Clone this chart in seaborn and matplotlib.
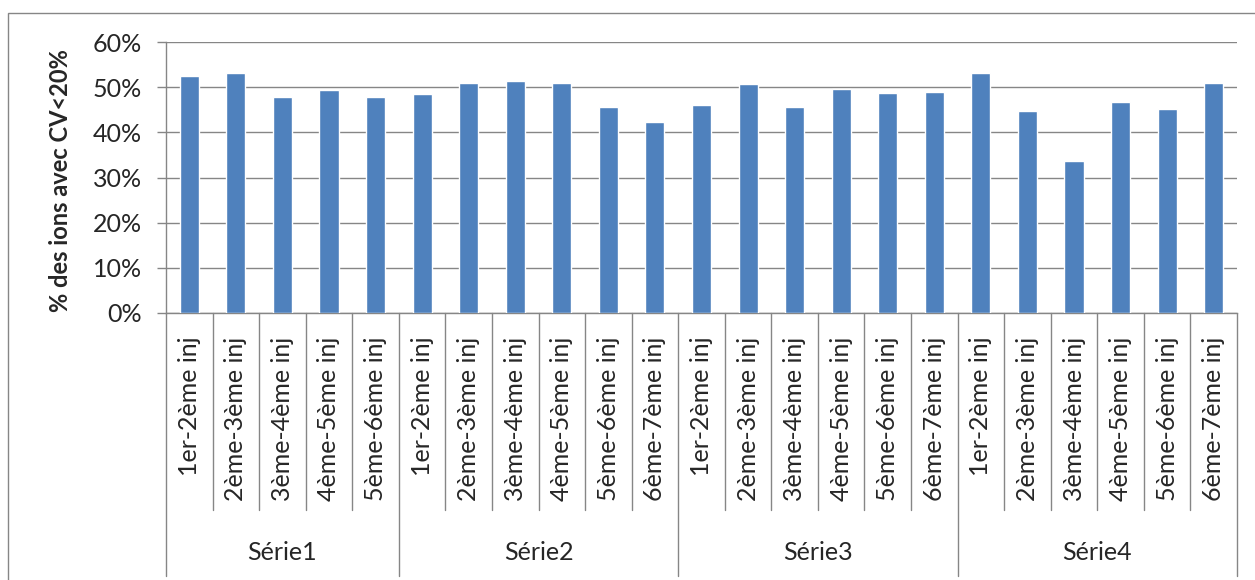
import numpy as np
import pandas as pd
import seaborn as sns
import matplotlib.pyplot as plt
from matplotlib.patches import Rectangle
from matplotlib.ticker import PercentFormatter

# ---- data ----
series = ["Série1", "Série2", "Série3", "Série4"]
labels_s1 = ["1er-2ème inj", "2ème-3ème inj", "3ème-4ème inj", "4ème-5ème inj", "5ème-6ème inj"]
labels_s234 = ["1er-2ème inj", "2ème-3ème inj", "3ème-4ème inj", "4ème-5ème inj",
               "5ème-6ème inj", "6ème-7ème inj"]
vals_s1 = [52.5, 53.2, 47.9, 49.4, 47.9]
vals_s2 = [48.5, 51.0, 51.4, 51.0, 45.6, 42.2]
vals_s3 = [46.1, 50.7, 45.6, 49.6, 48.6, 49.0]
vals_s4 = [53.2, 44.7, 33.7, 46.8, 45.1, 51.0]
ylabel = "% des ions avec CV<20%"

group_labels = [labels_s1, labels_s234, labels_s234, labels_s234]
group_vals = [vals_s1, vals_s2, vals_s3, vals_s4]

rows = []
for s, labs, vals in zip(series, group_labels, group_vals):
    for l, v in zip(labs, vals):
        rows.append({"serie": s, "inj": l, "key": f"{s}|{l}", "value": v})
df = pd.DataFrame(rows)

# ---- style ----
sns.set_style("white")
plt.rcParams["font.family"] = ["Lato", "DejaVu Sans"]
GRAY = "#868686"
BAR = "#4F81BD"
FS = 18

W, H = 1255, 580
fig = plt.figure(figsize=(W / 100, H / 100), dpi=100)
left, right, top, bottom = 166, 1237, 42, 313
ax = fig.add_axes([left / W, 1 - bottom / H, (right - left) / W, (bottom - top) / H])

sns.barplot(data=df, x="key", y="value", order=list(df["key"]), color=BAR,
            saturation=1, width=0.41, ax=ax, zorder=3)

ax.set_ylim(0, 60)
ax.set_yticks(np.arange(0, 61, 10))
ax.yaxis.set_major_formatter(PercentFormatter(xmax=100, decimals=0))
ax.set_xlim(-0.5, len(df) - 0.5)
ax.grid(axis="y", color=GRAY, lw=1, zorder=0)
ax.grid(axis="x", visible=False)
for side in ["top", "right"]:
    ax.spines[side].set_visible(False)
for side in ["left", "bottom"]:
    ax.spines[side].set_color(GRAY)
    ax.spines[side].set_linewidth(1)

ax.tick_params(axis="y", direction="out", length=6.5, width=1, color=GRAY,
               pad=11, labelsize=FS, left=True)
ax.tick_params(axis="x", length=0, pad=17, labelsize=FS)
ax.set_xticks(range(len(df)))
ax.set_xticklabels(df["inj"], rotation=90)
ax.set_xlabel("")
ax.set_ylabel(ylabel, fontsize=17, fontweight="bold")
ax.yaxis.set_label_coords(-0.088, 0.487)

# category dividers below the axis
ax_h = bottom - top
inner_end = (bottom - 510) / ax_h
group_end = (bottom - 576) / ax_h
trans = ax.get_xaxis_transform()
bounds = np.cumsum([0] + [len(v) for v in group_vals])
for b in range(len(df) + 1):
    yend = group_end if b in bounds else inner_end
    ax.plot([b - 0.5, b - 0.5], [0, yend], color=GRAY, lw=1, transform=trans,
            clip_on=False)

# group labels
lab_y = (bottom - 552) / ax_h
for s, b0, b1 in zip(series, bounds[:-1], bounds[1:]):
    ax.text((b0 + b1 - 1) / 2, lab_y, s, transform=trans, ha="center", va="center",
            fontsize=FS)

# outer chart border
fig.patches.append(Rectangle((8 / W, -0.1), 1.2, 1.1 - 12.5 / H, transform=fig.transFigure,
                             fill=False, edgecolor=GRAY, lw=1))

fig.savefig("out.png", dpi=100)
